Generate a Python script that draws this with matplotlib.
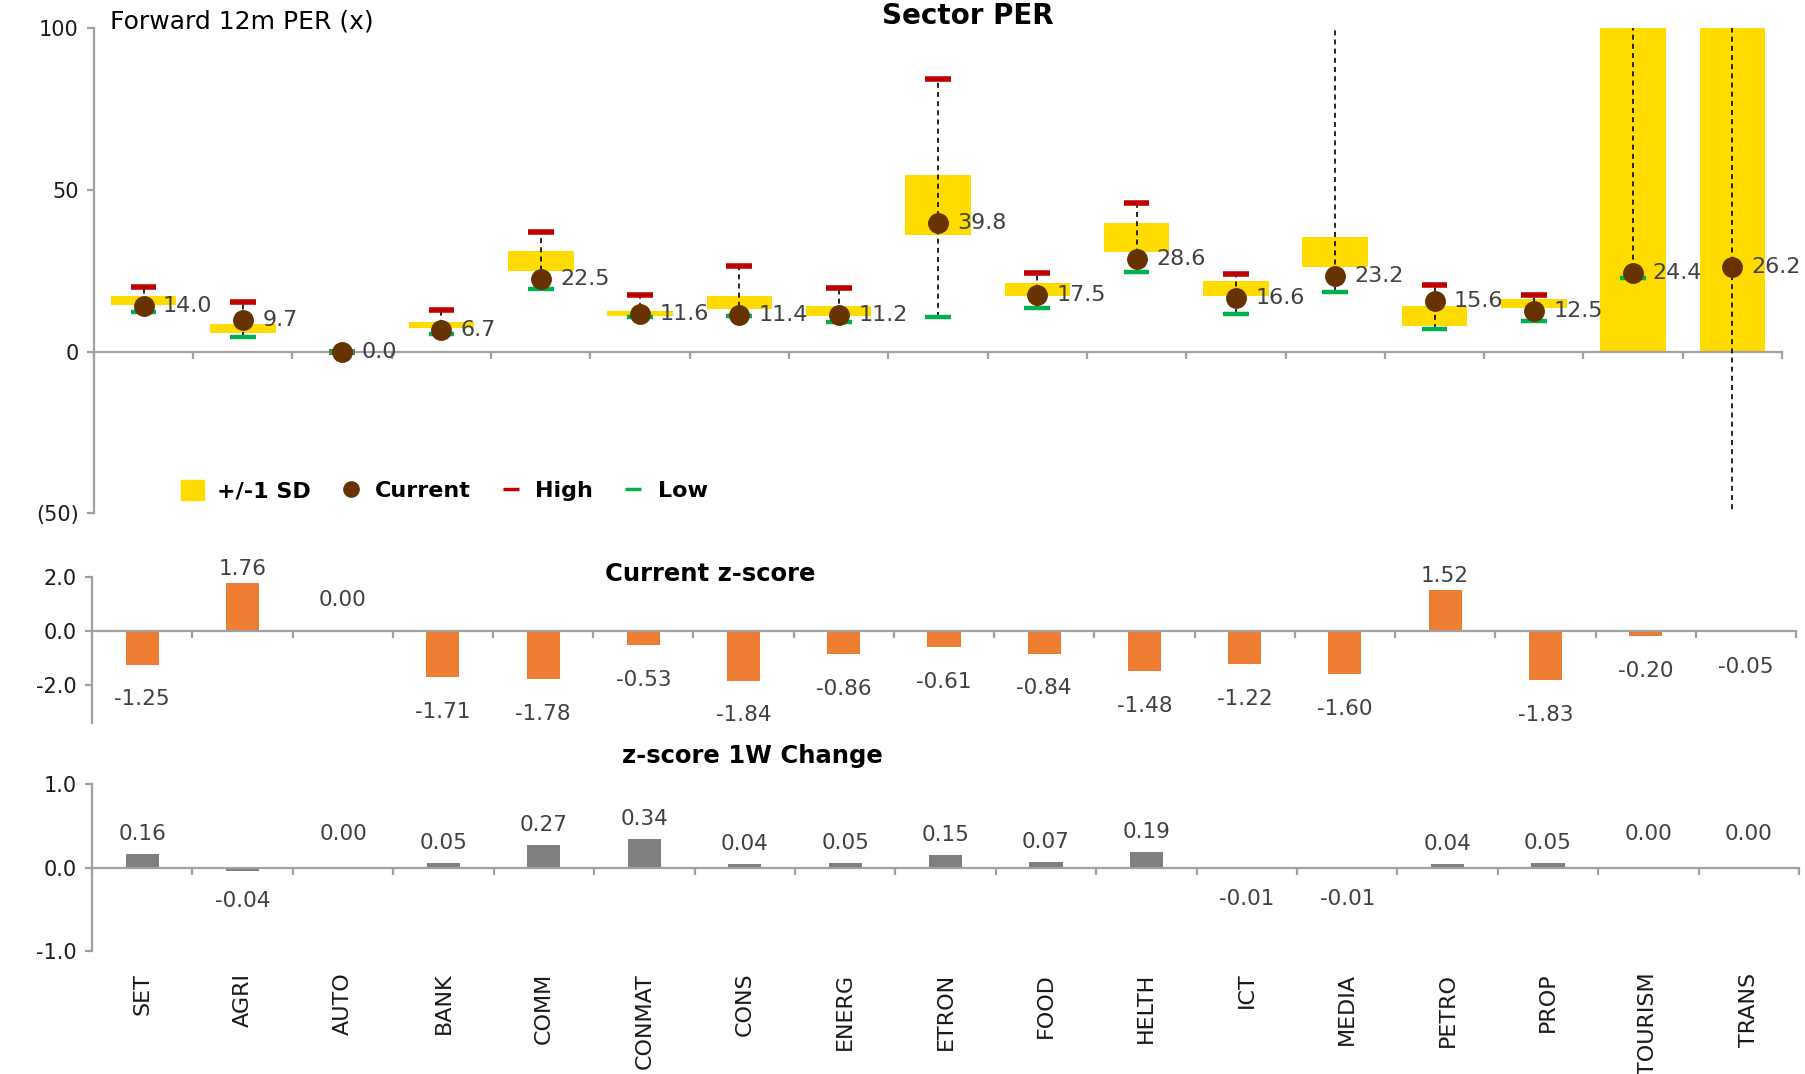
import numpy as np
import matplotlib
matplotlib.use("Agg")
import matplotlib.pyplot as plt
import matplotlib.ticker as ticker
from matplotlib.patches import Patch
from matplotlib.lines import Line2D

plt.rcParams['font.family'] = ['DejaVu Sans']

sectors = ["SET", "AGRI", "AUTO", "BANK", "COMM", "CONMAT", "CONS", "ENERG", "ETRON",
           "FOOD", "HELTH", "ICT", "MEDIA", "PETRO", "PROP", "TOURISM", "TRANS"]

# forward 12m PER
current = [14.0, 9.7, 0.0, 6.7, 22.5, 11.6, 11.4, 11.2, 39.8, 17.5, 28.6, 16.6, 23.2, 15.6, 12.5, 24.4, 26.2]
high = [20.1, 15.3, 0.0, 12.9, 36.9, 17.6, 26.3, 19.6, 84.1, 24.4, 45.9, 24.0, 160.0, 20.5, 17.6, 180.0, 200.0]
low = [12.2, 4.5, 0.0, 5.5, 19.4, 10.7, 11.1, 9.2, 10.7, 13.6, 24.6, 11.7, 18.3, 6.9, 9.3, 22.6, -80.0]
sd_upper = [17.2, 8.6, 0.0, 9.2, 31.0, 12.4, 17.3, 14.1, 54.6, 21.1, 39.8, 21.7, 35.4, 14.0, 16.2, 140.0, 140.0]
sd_lower = [14.4, 5.8, 0.0, 7.4, 25.0, 11.0, 13.2, 11.0, 36.0, 17.3, 30.8, 17.3, 26.0, 7.8, 13.6, 0.0, 0.0]

zscore = [-1.25, 1.76, 0.00, -1.71, -1.78, -0.53, -1.84, -0.86, -0.61, -0.84, -1.48, -1.22, -1.60, 1.52, -1.83, -0.20, -0.05]
zchange = [0.16, -0.04, 0.00, 0.05, 0.27, 0.34, 0.04, 0.05, 0.15, 0.07, 0.19, -0.01, -0.01, 0.04, 0.05, 0.00, 0.00]

x = np.arange(len(sectors))
yellow = '#FFDB00'
brown = '#663300'
red = '#C00000'
green = '#00B050'
axis_gray = '#A0A0A0'
label_gray = '#404040'

fig = plt.figure(figsize=(18.05, 10.74), dpi=100)
ax1 = fig.add_axes([0.052, 0.522, 0.9353, 0.452])
ax2 = fig.add_axes([0.051, 0.327, 0.944, 0.136])
ax3 = fig.add_axes([0.051, 0.1145, 0.9457, 0.1555])


def style_axis(ax, ysize):
    ax.spines['top'].set_visible(False)
    ax.spines['right'].set_visible(False)
    ax.spines['bottom'].set_position(('data', 0))
    for s in ['left', 'bottom']:
        ax.spines[s].set_color(axis_gray)
        ax.spines[s].set_linewidth(1.6)
    ax.set_xlim(-0.5, len(sectors) - 0.5)
    ax.set_xticks(np.arange(-0.5, len(sectors), 1))
    ax.set_xticklabels([])
    ax.tick_params(axis='x', direction='out', length=5, width=1.6, color=axis_gray)
    ax.tick_params(axis='y', direction='out', length=5, width=1.6, color=axis_gray,
                   labelsize=ysize, labelcolor='#1a1a1a', pad=6)


# ---- top panel: sector PER ----
style_axis(ax1, 15)
ax1.set_ylim(-50, 100)
ax1.set_yticks([-50, 0, 50, 100])
ax1.yaxis.set_major_formatter(ticker.FuncFormatter(
    lambda v, p: f"({abs(v):.0f})" if v < 0 else f"{v:.0f}"))

band = np.array(sd_upper) - np.array(sd_lower)
ax1.bar(x, band, bottom=sd_lower, width=0.66, color=yellow, zorder=1)
ax1.vlines(x, low, high, colors='black', linestyles=(0, (3, 2.5)), linewidth=1.2, zorder=3)
ax1.hlines(high, x - 0.13, x + 0.13, colors=red, linewidth=4, zorder=4)
ax1.hlines(low, x - 0.13, x + 0.13, colors=green, linewidth=3.2, zorder=4)
ax1.plot(x, current, 'o', color=brown, markersize=14, zorder=5)
for xi, v in zip(x, current):
    ax1.annotate(f"{v:.1f}", (xi, v), xytext=(14, 0), textcoords='offset points',
                 ha='left', va='center', fontsize=16, color=label_gray, zorder=6)

handles = [Patch(color=yellow),
           Line2D([], [], marker='o', color=brown, linestyle='none', markersize=11),
           Line2D([], [], marker='_', color=red, linestyle='none', markersize=12, mew=2.5),
           Line2D([], [], marker='_', color=green, linestyle='none', markersize=12, mew=2.5)]
ax1.legend(handles, ["+/-1 SD", "Current", "High", "Low"], ncol=4, frameon=False,
           loc='center left', bbox_to_anchor=(0.04, 0.047), prop={'weight': 'bold', 'size': 16},
           handlelength=1.0, handleheight=1.0, handletextpad=0.6, columnspacing=1.3)

fig.text(0.536, 0.985, "Sector PER", ha='center', va='center', fontsize=20, fontweight='bold')
fig.text(0.061, 0.980, "Forward 12m PER (x)", ha='left', va='center', fontsize=18)

# ---- middle panel: current z-score ----
style_axis(ax2, 15)
ax2.set_ylim(-3.4, 2.0)
ax2.set_yticks([-2, 0, 2])
ax2.yaxis.set_major_formatter(ticker.FormatStrFormatter('%.1f'))
ax2.bar(x, zscore, width=0.33, color='#ED7D31', zorder=1)
for xi, v in zip(x, zscore):
    if v > 0:
        off = 10
    elif v == 0:
        off = 22
    else:
        off = -25
    t = ax2.annotate(f"{v:.2f}", (xi, v), xytext=(0, off), textcoords='offset points',
                     ha='center', va='center', fontsize=15.5, color=label_gray,
                     annotation_clip=False)
    # labels below the plot area are cut off, as in the source chart
    t.set_clip_on(v < 0)
ax2.text(0.363, 1.02, "Current z-score", transform=ax2.transAxes, ha='center', va='center',
         fontsize=17.5, fontweight='bold')

# ---- bottom panel: z-score 1W change ----
style_axis(ax3, 15)
ax3.set_ylim(-1, 1)
ax3.set_yticks([-1, 0, 1])
ax3.yaxis.set_major_formatter(ticker.FormatStrFormatter('%.1f'))
ax3.bar(x, zchange, width=0.33, color='#7F7F7F', zorder=1)
for xi, v in zip(x, zchange):
    if v > 0:
        off = 14.5
    elif v == 0:
        off = 24
    else:
        off = -22
    ax3.annotate(f"{v:.2f}", (xi, v), xytext=(0, off), textcoords='offset points',
                 ha='center', va='center', fontsize=15.5, color=label_gray)
ax3.text(0.387, 1.17, "z-score 1W Change", transform=ax3.transAxes, ha='center', va='center',
         fontsize=17.5, fontweight='bold')

for xi, name in zip(x, sectors):
    ax3.text(xi, -0.13, name, transform=ax3.get_xaxis_transform(), rotation=90,
             ha='center', va='top', fontsize=16, color='#1a1a1a')

fig.savefig("out.png", dpi=100)
